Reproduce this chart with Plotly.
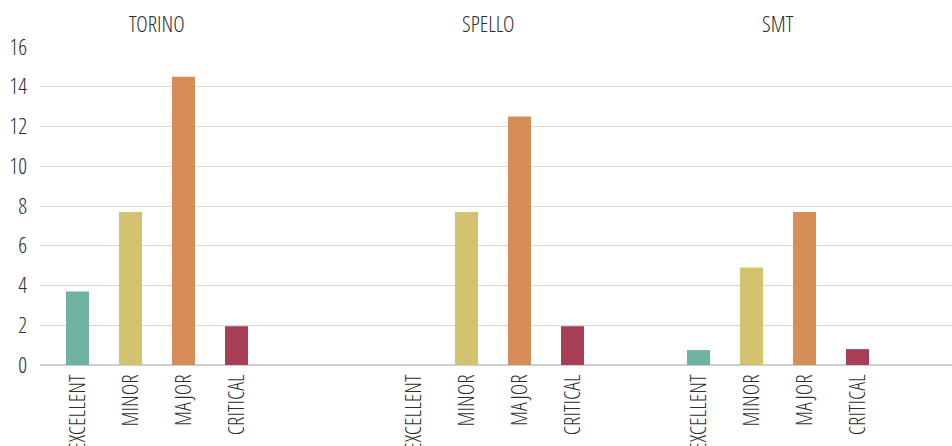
import plotly.graph_objects as go
from plotly.subplots import make_subplots

sites = ["TORINO", "SPELLO", "SMT"]
categories = ["EXCELLENT", "MINOR", "MAJOR", "CRITICAL"]
torino = [3.7, 7.7, 14.5, 1.95]
spello = [0, 7.7, 12.5, 1.95]
smt = [0.75, 4.9, 7.7, 0.8]
series = [torino, spello, smt]
colors = ["#70b2a0", "#d3c36e", "#d48e56", "#a83e56"]
y_ticks = [0, 2, 4, 6, 8, 10, 12, 14, 16]

FONT = "Open Sans Condensed Light, Open Sans Condensed, DejaVu Sans Condensed, sans-serif"
TXT = "#2e2e2e"

fig = make_subplots(rows=1, cols=3, shared_yaxes=True, horizontal_spacing=0)

domains = [[0, 0.3125], [0.3125, 0.6524], [0.6524, 1.0]]
ranges = [[-0.7075, 4.6698], [-1.6698, 4.1792], [-1.198, 4.783]]
title_x = [1.5, 1.4, 1.5]

for i, vals in enumerate(series):
    fig.add_trace(go.Bar(x=categories, y=vals, marker_color=colors,
                         marker_line_width=0, showlegend=False),
                  row=1, col=i + 1)
    xa = "xaxis" if i == 0 else f"xaxis{i+1}"
    fig.layout[xa].update(domain=domains[i], range=ranges[i], type="category",
                          tickangle=-90, showgrid=False, showline=False,
                          ticks="", tickfont=dict(family=FONT, size=22, color=TXT),
                          ticklabelstandoff=4, automargin=False)
    fig.add_annotation(text=sites[i], x=title_x[i], xref=("x" if i == 0 else f"x{i+1}"),
                       y=1, yref="paper", yshift=24, showarrow=False,
                       yanchor="middle",
                       font=dict(family=FONT, size=22, color=TXT))

for i in range(3):
    ya = "yaxis" if i == 0 else f"yaxis{i+1}"
    fig.layout[ya].update(range=[0, 16], tickvals=y_ticks, showgrid=True,
                          gridcolor="#d6d6d6", gridwidth=1,
                          zeroline=True, zerolinecolor="#cdcdcd", zerolinewidth=2,
                          showticklabels=(i == 0), automargin=False,
                          tickfont=dict(family=FONT, size=22, color=TXT),
                          ticklabelstandoff=12)

fig.update_layout(width=952, height=446, bargap=0.566,
                  margin=dict(l=40, r=0, t=47, b=81),
                  plot_bgcolor="white", paper_bgcolor="white")

fig.write_html("out.html")
